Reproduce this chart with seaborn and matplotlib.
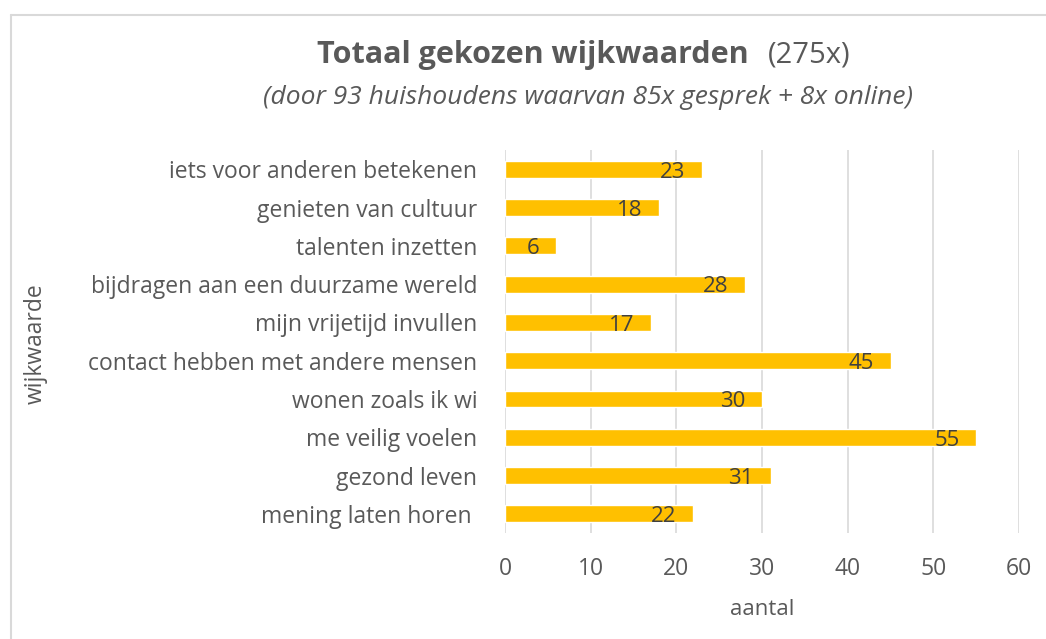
import matplotlib.pyplot as plt
import matplotlib.lines as mlines
import pandas as pd
import seaborn as sns

categories = [
    "iets voor anderen betekenen",
    "genieten van cultuur",
    "talenten inzetten",
    "bijdragen aan een duurzame wereld",
    "mijn vrijetijd invullen",
    "contact hebben met andere mensen",
    "wonen zoals ik wi",
    "me veilig voelen",
    "gezond leven",
    "mening laten horen ",
]
counts = [23, 18, 6, 28, 17, 45, 30, 55, 31, 22]
x_ticks = [0, 10, 20, 30, 40, 50, 60]

sns.set_theme(style="white")
plt.rcParams["font.family"] = ["Open Sans", "DejaVu Sans"]

df = pd.DataFrame({"wijkwaarde": categories, "aantal": counts})

fig = plt.figure(figsize=(10.46, 6.39), dpi=100)
ax = fig.add_axes([0.4828, 0.166, 0.4914, 0.599])

sns.barplot(data=df, x="aantal", y="wijkwaarde", color="#FFC000",
            saturation=1, width=0.44, ax=ax)

# labels inside the bar end
for p, v in zip(ax.patches, counts):
    ax.annotate(str(v), (p.get_width(), p.get_y() + p.get_height() / 2),
                xytext=(-12, -2), textcoords="offset points",
                ha="right", va="center", fontsize=16, color="#404040")

ax.set_xlim(0, 60)
ax.set_xticks(x_ticks)
ax.grid(axis="x", color="#d9d9d9", linewidth=1.2)
ax.set_axisbelow(True)
for s in ax.spines.values():
    s.set_visible(False)
ax.tick_params(axis="both", length=0, labelsize=16.5, labelcolor="#595959")
ax.tick_params(axis="x", pad=17)
ax.tick_params(axis="y", pad=20)

ax.set_xlabel("aantal", fontsize=16, color="#595959", labelpad=13)
ax.set_ylabel("")
fig.text(0.034, 0.463, "wijkwaarde", rotation=90, ha="center", va="center",
         fontsize=16.5, color="#595959")

# title in two pieces: bold part + normal part
fig.text(0.509, 0.914, "Totaal gekozen wijkwaarden", ha="center", va="center",
         fontsize=22, fontweight="bold", color="#595959")
fig.text(0.734, 0.914, "(275x)", ha="left", va="center",
         fontsize=21, color="#595959")
fig.text(0.562, 0.848, "(door 93 huishoudens waarvan 85x gesprek + 8x online)",
         ha="center", va="center", fontsize=19, style="italic", color="#595959")

# chart frame
fig.add_artist(mlines.Line2D([0.0105, 0.0105], [0.0, 0.9765], color="#d9d9d9", lw=1.5))
fig.add_artist(mlines.Line2D([0.0105, 1.0], [0.9765, 0.9765], color="#d9d9d9", lw=1.5))

fig.savefig("out.png", dpi=100)
